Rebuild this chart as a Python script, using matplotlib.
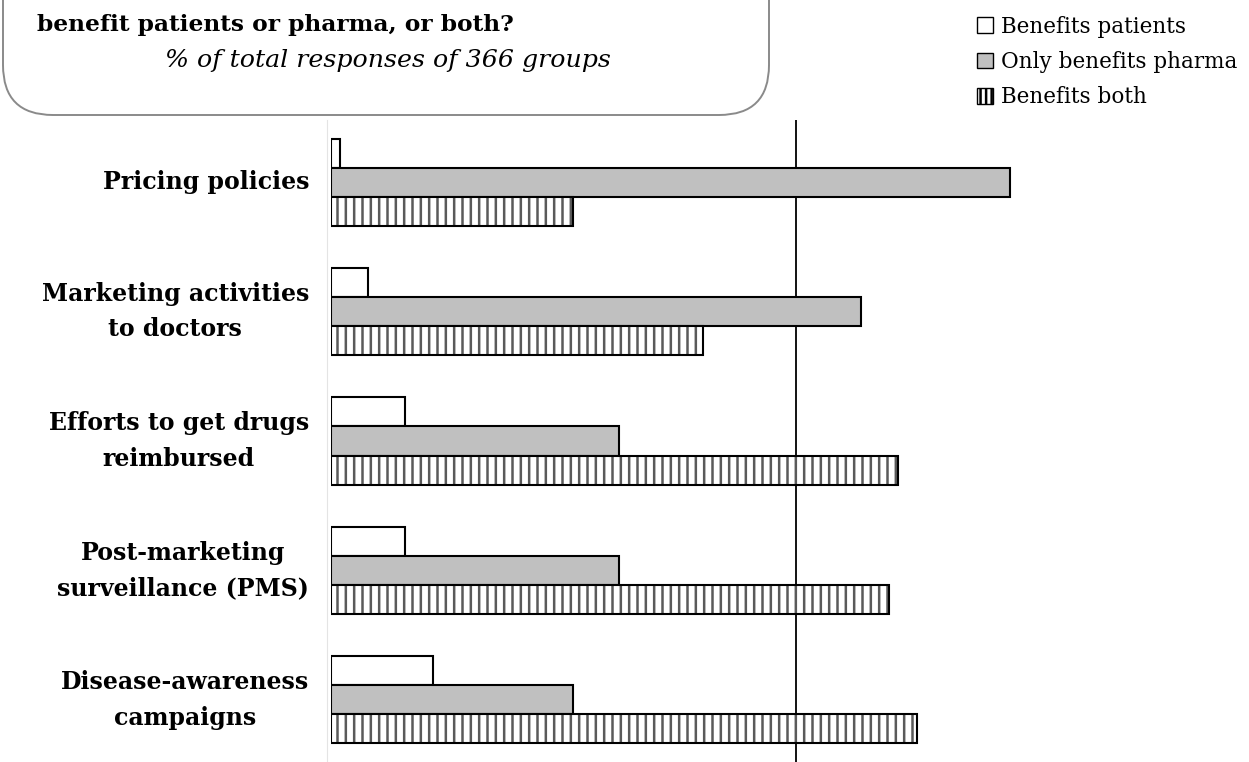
import matplotlib
matplotlib.use("Agg")
import matplotlib.pyplot as plt
from matplotlib.patches import Patch, FancyBboxPatch
from matplotlib.transforms import blended_transform_factory
import numpy as np

plt.rcParams['font.family'] = ['DejaVu Serif']
plt.rcParams['hatch.linewidth'] = 1.8

categories = ["Pricing policies",
              "Marketing activities\nto doctors",
              "Efforts to get drugs\nreimbursed",
              "Post-marketing\nsurveillance (PMS)",
              "Disease-awareness\ncampaigns"]
benefits_patients = [1, 4, 8, 8, 11]
only_pharma = [73, 57, 31, 31, 26]
benefits_both = [26, 40, 61, 60, 63]
series_names = ["Benefits patients", "Only benefits pharma", "Benefits both"]
title_text = "benefit patients or pharma, or both?"
subtitle_text = "% of total responses of 366 groups"

W, H = 1249, 762
fig = plt.figure(figsize=(W/100, H/100), dpi=100)
ax = fig.add_axes([331/W, 0, (W-331)/W, 642/H])

y = np.arange(len(categories))
h = 0.224
ax.barh(y - h, benefits_patients, height=h, color="white", edgecolor="black", linewidth=1.5)
ax.barh(y, only_pharma, height=h, color="#c0c0c0", edgecolor="black", linewidth=1.5)
ax.barh(y + h, benefits_both, height=h, color="white", edgecolor="#5a5a5a", linewidth=0, hatch="||")
ax.barh(y + h, benefits_both, height=h, fill=False, edgecolor="black", linewidth=1.5)

ax.axvline(50, color="black", linewidth=1.3, zorder=0)
ax.set_xlim(0, (W-331)/9.3)
ax.set_ylim(4.479, -0.479)
ax.set_xticks([])
ax.set_yticks([])
trans = blended_transform_factory(ax.transAxes, ax.transData)
for yi, lab in zip(y, categories):
    ax.text(-22/918, yi, lab, transform=trans, ha="right", va="center",
            multialignment="center", fontweight="bold", fontsize=17,
            linespacing=1.62)
for s in ["top", "right", "bottom"]:
    ax.spines[s].set_visible(False)
ax.spines["left"].set_color("#e4e4e4")
ax.spines["left"].set_position(("outward", 3))

# Title box
box = FancyBboxPatch((3/W, 1 - 115/H), 766/W, 200/H,
                     boxstyle="round,pad=0,rounding_size=0.04",
                     transform=fig.transFigure, facecolor="white",
                     edgecolor="#8a8a8a", linewidth=1.4, mutation_aspect=W/H)
fig.add_artist(box)
fig.text(37/W, 1 - 25/H, title_text, fontweight="bold", fontsize=16.8, va="center", ha="left")
fig.text(388/W, 1 - 61/H, subtitle_text, fontstyle="italic", fontsize=18.2, va="center", ha="center")

handles = [Patch(facecolor="white", edgecolor="black", linewidth=1),
           Patch(facecolor="#c0c0c0", edgecolor="black", linewidth=1),
           Patch(facecolor="white", edgecolor="black", linewidth=1, hatch="|||")]
fig.legend(handles, series_names, loc="upper left", bbox_to_anchor=(968/W, 1 - 7/H),
           frameon=False, fontsize=15.5, handlelength=0.75, handleheight=0.75,
           handletextpad=0.4, labelspacing=0.62, borderaxespad=0)

fig.savefig("out.png", dpi=100)
